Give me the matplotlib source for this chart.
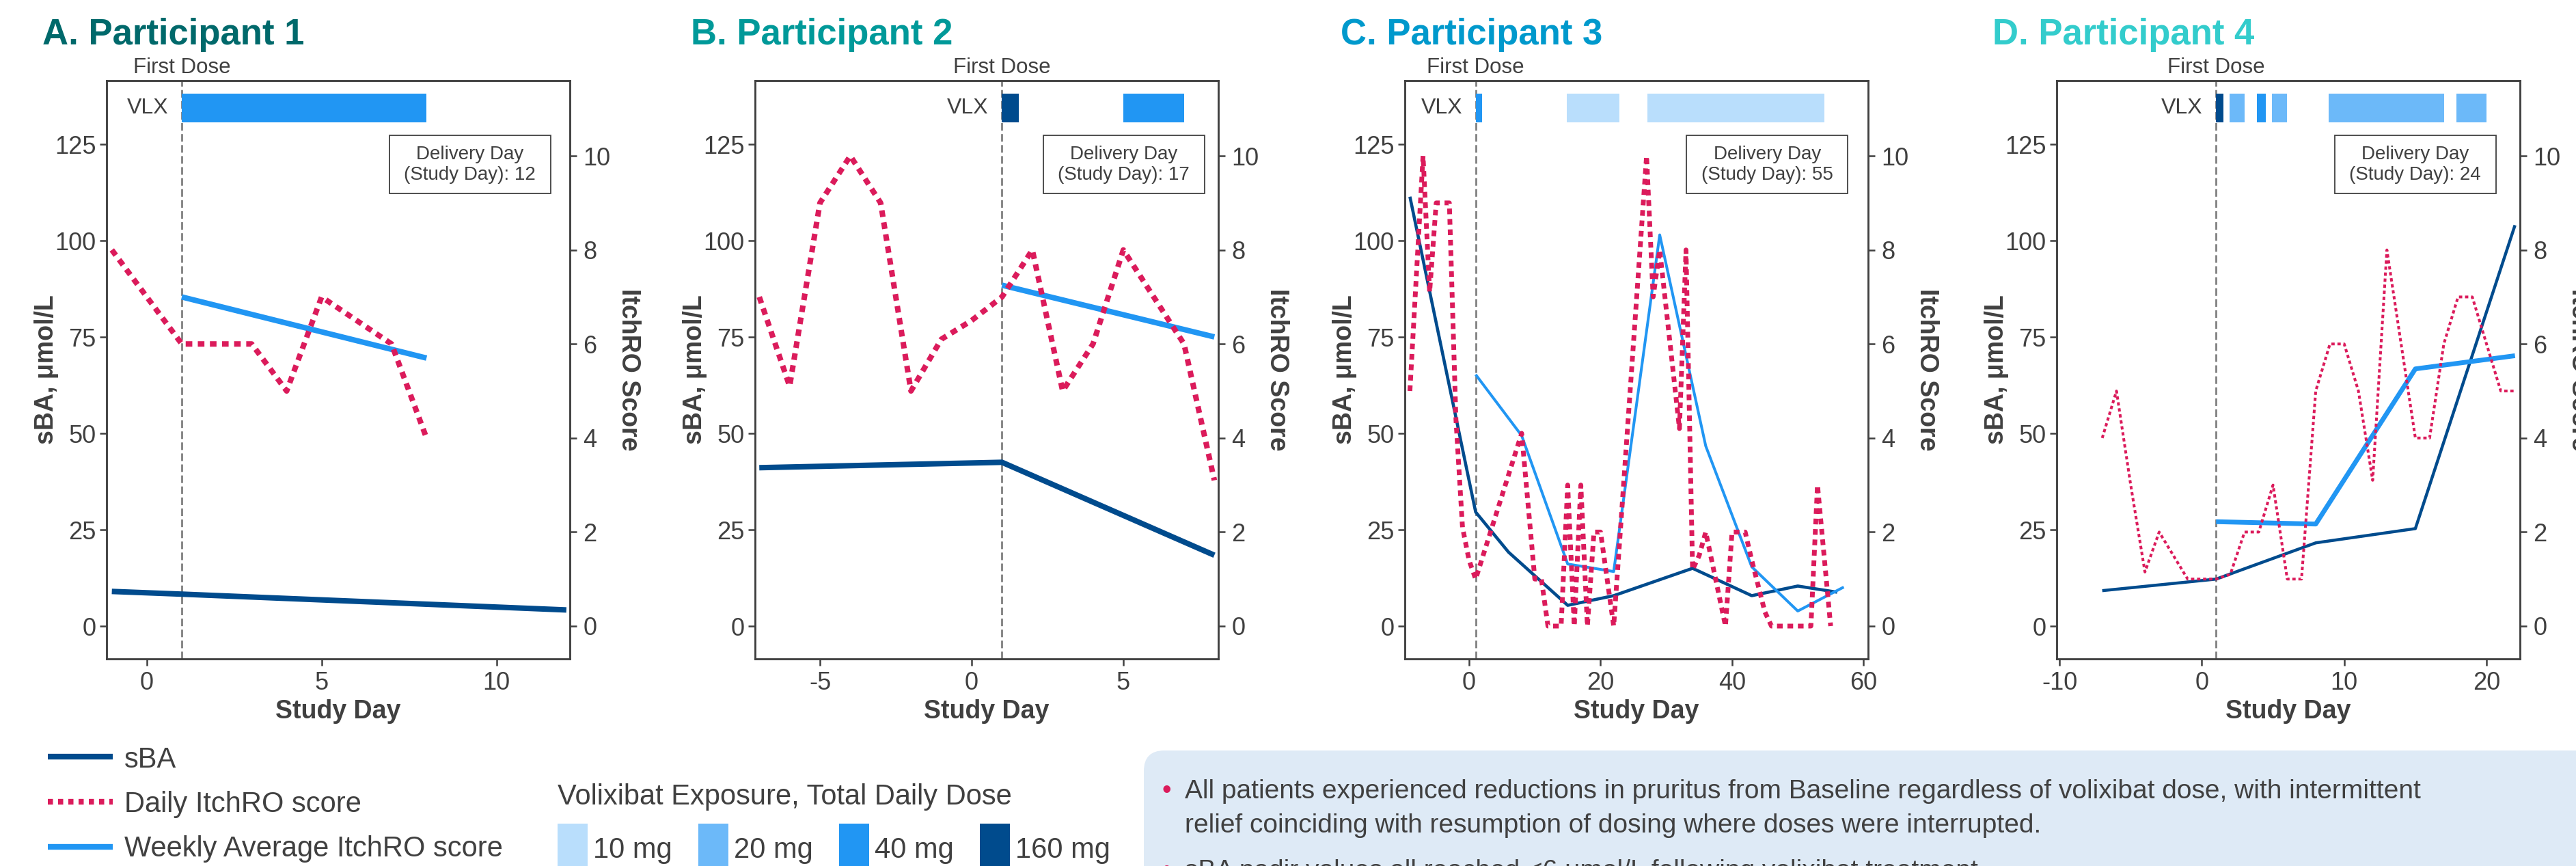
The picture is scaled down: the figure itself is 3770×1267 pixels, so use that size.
import matplotlib
matplotlib.use('Agg')
import matplotlib.pyplot as plt
from matplotlib.lines import Line2D
from matplotlib.patches import Rectangle, FancyBboxPatch
from matplotlib.transforms import IdentityTransform, blended_transform_factory

plt.rcParams['font.family'] = ['Liberation Sans', 'DejaVu Sans']
plt.rcParams['axes.unicode_minus'] = False

# ---------------- data ----------------
titles = ["A. Participant 1", "B. Participant 2", "C. Participant 3", "D. Participant 4"]
delivery_days = [12, 17, 55, 24]

# Participant 1
p1_sba_day = [-1, 1, 12]
p1_sba = [9.0, 8.3, 4.2]
p1_daily_day = [-1, 1, 2, 3, 4, 5, 6, 7, 8]
p1_daily = [8, 6, 6, 6, 5, 7, 6.5, 6, 4]
p1_week_day = [1, 8]
p1_week = [7.0, 5.7]
p1_dose_start = [1]
p1_dose_end = [8]
p1_dose_mg = [40]

# Participant 2
p2_sba_day = [-7, 1, 8]
p2_sba = [41.1, 42.5, 18.4]
p2_daily_day = [-7, -6, -5, -4, -3, -2, -1, 0, 1, 2, 3, 4, 5, 6, 7, 8]
p2_daily = [7, 5.1, 9, 10, 9, 5, 6.1, 6.5, 7, 8, 5, 6, 8, 7, 6, 3.1]
p2_week_day = [1, 8]
p2_week = [7.25, 6.15]
p2_dose_start = [1, 5]
p2_dose_end = [1.55, 7]
p2_dose_mg = [160, 40]

# Participant 3
p3_sba_day = [-9, 1, 6, 15, 22, 34, 43, 50, 56]
p3_sba = [111.4, 29.6, 19.2, 5.4, 7.9, 15.0, 7.9, 10.4, 8.8]
p3_daily_day = [-9, -7, -6, -5, -4, -3, -2, -1, 0, 1, 8, 10, 11, 12, 14, 15, 16, 17, 18,
                19, 20, 22, 27, 28, 29, 32, 33, 34, 35, 36, 39, 40, 42, 43, 45, 46, 52, 53, 55]
p3_daily = [5, 10, 7.1, 9, 9, 9, 4.4, 2.1, 1.4, 1, 4.1, 1, 1, 0, 0, 3, 0, 3, 0,
            2, 2, 0, 10, 7, 8, 4.2, 8, 1.2, 1.5, 2, 0, 2, 2, 1.4, 0.3, 0, 0, 3, 0]
p3_week_day = [1, 8, 15, 22, 29, 36, 43, 50, 57]
p3_week = [5.35, 4.05, 1.32, 1.16, 8.32, 3.83, 1.26, 0.32, 0.83]
p3_dose_start = [1, 14.9, 27.1]
p3_dose_end = [2, 22.9, 54]
p3_dose_mg = [40, 10, 10]

# Participant 4
p4_sba_day = [-7, 1, 8, 15, 22]
p4_sba = [9.2, 12.2, 21.6, 25.3, 104.0]
p4_daily_day = list(range(-7, 23))
p4_daily = [4, 5, 3, 1.15, 2, 1.5, 1, 1, 1, 1.1, 2, 2, 3, 1, 1, 5, 6, 6, 5, 3.1,
            8, 6, 4, 4, 6, 7, 7, 6, 5, 5]
p4_week_day = [1, 8, 15, 22]
p4_week = [2.22, 2.17, 5.47, 5.75]
p4_dose_start = [1, 1.95, 3.85, 4.9, 8.9, 17.9]
p4_dose_end = [1.52, 3.0, 4.5, 6.0, 17.0, 20.0]
p4_dose_mg = [160, 20, 40, 20, 20, 20]

first_dose_day = 1
dose_levels = [10, 20, 40, 160]
dose_labels = ["10 mg", "20 mg", "40 mg", "160 mg"]
sba_ticks = [0, 25, 50, 75, 100, 125]
itch_ticks = [0, 2, 4, 6, 8, 10]
x_ticks = [[0, 5, 10], [-5, 0, 5], [0, 20, 40, 60], [-10, 0, 10, 20]]

legend_labels = ["sBA", "Daily ItchRO score", "Weekly Average ItchRO score"]
dose_title = "Volixibat Exposure, Total Daily Dose"
bullets = [
    ["All patients experienced reductions in pruritus from Baseline regardless of volixibat dose, with intermittent",
     "relief coinciding with resumption of dosing where doses were interrupted."],
    ["sBA nadir values all reached <6 \u03bcmol/L following volixibat treatment"],
]

# ---------------- style ----------------
W, H, DPI = 3770, 1267, 100
GREY = '#404040'
C_SBA = '#004B8D'
C_DAILY = '#DB1B5B'
C_WEEK = '#2196F3'
DOSE_COLORS = {10: '#B9DEFC', 20: '#6CB9F9', 40: '#2196F3', 160: '#004B8D'}
TITLE_COLORS = ['#00696B', '#009999', '#0099CC', '#33CCCC']

fig = plt.figure(figsize=(W / DPI, H / DPI), dpi=DPI)
fig.patch.set_facecolor('white')


def fx(x):
    return x / W


def fy(y):
    return 1 - y / H


panel_data = [
    (p1_sba_day, p1_sba, p1_daily_day, p1_daily, p1_week_day, p1_week, p1_dose_start, p1_dose_end, p1_dose_mg),
    (p2_sba_day, p2_sba, p2_daily_day, p2_daily, p2_week_day, p2_week, p2_dose_start, p2_dose_end, p2_dose_mg),
    (p3_sba_day, p3_sba, p3_daily_day, p3_daily, p3_week_day, p3_week, p3_dose_start, p3_dose_end, p3_dose_mg),
    (p4_sba_day, p4_sba, p4_daily_day, p4_daily, p4_week_day, p4_week, p4_dose_start, p4_dose_end, p4_dose_mg),
]

ax_left = [156, 1105, 2056, 3010]
ax_w = 678
ax_top, ax_bot = 118, 964
xlims = [(-1.15, 12.1), (-7.14, 8.13), (-9.77, 60.7), (-10.2, 22.35)]
sba_lim = (-8.5, 141.5)
itch_lim = (-0.698, 11.6)
lw_sba = [5.8, 5.8, 3.3, 3.2]
lw_week = [5.8, 5.8, 2.9, 5.0]
lw_daily = [5.8, 5.8, 5.0, 2.9]
box_x0 = [0.61, 0.622, 0.608, 0.60]
bar_y0, bar_h = 130.7, 7.5

for i in range(4):
    sd, sv, dd, dv, wd, wv, ds, de, dm = panel_data[i]
    ax = fig.add_axes([fx(ax_left[i]), fy(ax_bot), ax_w / W, (ax_bot - ax_top) / H])
    ax2 = ax.twinx()
    ax.set_xlim(*xlims[i])
    ax.set_ylim(*sba_lim)
    ax2.set_ylim(*itch_lim)

    # dosing bars
    for s, e, m in zip(ds, de, dm):
        ax.broken_barh([(s, e - s)], (bar_y0, bar_h), facecolor=DOSE_COLORS[m], edgecolor='none', zorder=2)

    # first dose line
    ax.axvline(first_dose_day, color='#808080', lw=2.0, ls=(0, (4, 1.8)), zorder=1)

    # sBA
    ax.plot(sd, sv, color=C_SBA, lw=lw_sba[i], solid_capstyle='butt', zorder=3)
    # itch
    ax2.plot(wd, wv, color=C_WEEK, lw=lw_week[i], solid_capstyle='butt', zorder=3)
    ax2.plot(dd, dv, color=C_DAILY, lw=lw_daily[i], dashes=(1.2, 1.0), dash_capstyle='butt', zorder=4)

    ax.set_xticks(x_ticks[i])
    ax.set_yticks(sba_ticks)
    ax2.set_yticks(itch_ticks)
    for a in (ax, ax2):
        a.tick_params(axis='both', labelsize=26, colors=GREY, width=1.8, length=7, pad=4)
        for sp in a.spines.values():
            sp.set_color(GREY)
            sp.set_linewidth(1.8)
    ax.tick_params(axis='x', pad=6)
    ax2.tick_params(axis='y', pad=7)

    ax.set_xlabel("Study Day", fontsize=27, fontweight='bold', color=GREY, va='top')
    ax.xaxis.set_label_coords(0.5, -0.07)
    ax.set_ylabel("sBA, \u03bcmol/L", fontsize=27, fontweight='bold', color=GREY)
    ax.yaxis.set_label_coords(-0.103, 0.5)
    ax2.set_ylabel("ItchRO Score", fontsize=27, fontweight='bold', color=GREY, rotation=270, va='bottom')
    ax2.yaxis.set_label_coords(1.10, 0.5)

    # titles
    fig.text(fx(ax_left[i] - 94), fy(65), titles[i], fontsize=38, fontweight='bold',
             color=TITLE_COLORS[i], ha='left', va='baseline')

    trans = blended_transform_factory(ax.transData, ax.transAxes)
    ax.text(first_dose_day, 1.013, "First Dose", transform=trans, ha='center', va='baseline',
            fontsize=22.5, color=GREY, clip_on=False)
    ax.annotate("VLX", xy=(first_dose_day, bar_y0 + bar_h / 2), xytext=(-14, 0),
                textcoords='offset points', ha='right', va='center', fontsize=23, color=GREY)

    # delivery day box
    ax.add_patch(Rectangle((box_x0[i], 0.805), 0.348, 0.10, transform=ax.transAxes,
                           facecolor='white', edgecolor=GREY, lw=1.3, zorder=5))
    ax.text(box_x0[i] + 0.174, 0.855, "Delivery Day\n(Study Day): %d" % delivery_days[i],
            transform=ax.transAxes, ha='center', va='center', fontsize=20, color=GREY,
            linespacing=1.2, zorder=6)

# ---------------- legend ----------------
leg_y = [1107, 1173, 1239]
leg_base = [1123, 1188, 1253]
styles = [dict(color=C_SBA, lw=6, solid_capstyle='butt'),
          dict(color=C_DAILY, lw=6, dashes=(0.9, 0.9), dash_capstyle='butt'),
          dict(color=C_WEEK, lw=6, solid_capstyle='butt')]
for lab, y, yb, st in zip(legend_labels, leg_y, leg_base, styles):
    fig.add_artist(Line2D([fx(70), fx(165)], [fy(y), fy(y)], transform=fig.transFigure, **st))
    fig.text(fx(182), fy(yb), lab, fontsize=30, color=GREY, ha='left', va='baseline')

fig.text(fx(816), fy(1177), dose_title, fontsize=30, color=GREY, ha='left', va='baseline')
sw_x = [816, 1022, 1228, 1434]
for x, lev, lab in zip(sw_x, dose_levels, dose_labels):
    fig.add_artist(Rectangle((fx(x), fy(1275)), 44 / W, (1275 - 1205) / H, transform=fig.transFigure,
                             facecolor=DOSE_COLORS[lev], edgecolor='none'))
    fig.text(fx(x + 52), fy(1255), lab, fontsize=30, color=GREY, ha='left', va='baseline')

# ---------------- summary box ----------------
fig.add_artist(FancyBboxPatch((1674, -80), 2300, (H - 1098) + 80, transform=IdentityTransform(),
                              boxstyle='round,pad=0,rounding_size=30', facecolor='#DEEAF6', edgecolor='none'))
line_base = [[1168, 1218], [1285]]
for blines, bases in zip(bullets, line_base):
    fig.text(fx(1700), fy(bases[0]), "\u2022", fontsize=28, color=C_DAILY, ha='left', va='baseline')
    for t, b in zip(blines, bases):
        fig.text(fx(1734), fy(b), t, fontsize=28, color=GREY, ha='left', va='baseline')

fig.savefig('out.png', dpi=DPI)
